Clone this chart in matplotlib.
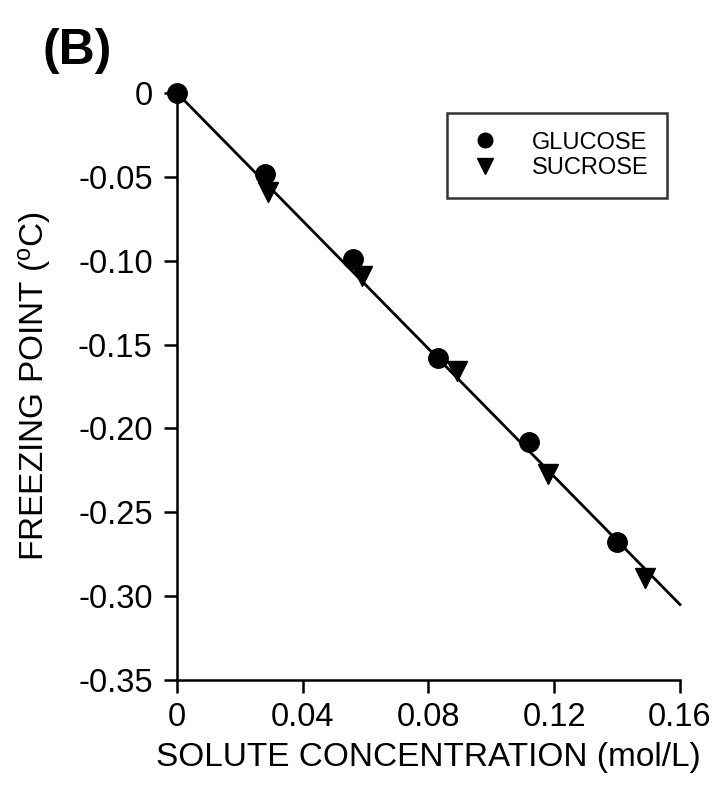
import matplotlib
matplotlib.use("Agg")
import matplotlib.pyplot as plt

plt.rcParams['font.family'] = ['Liberation Sans', 'DejaVu Sans']
plt.rcParams['mathtext.fontset'] = 'custom'
plt.rcParams['mathtext.rm'] = 'Liberation Sans'

# freezing point vs concentration
glucose_x = [0.0, 0.028, 0.056, 0.083, 0.112, 0.140]
glucose_y = [0.0, -0.048, -0.099, -0.158, -0.208, -0.268]
sucrose_x = [0.029, 0.059, 0.089, 0.118, 0.149]
sucrose_y = [-0.059, -0.109, -0.166, -0.227, -0.289]

# fitted line endpoints
fit_x = [0.0, 0.16]
fit_y = [0.0, -0.305]

xticks = [0, 0.04, 0.08, 0.12, 0.16]
xtick_labels = ['0', '0.04', '0.08', '0.12', '0.16']
yticks = [0, -0.05, -0.10, -0.15, -0.20, -0.25, -0.30, -0.35]
ytick_labels = ['0', '-0.05', '-0.10', '-0.15', '-0.20', '-0.25', '-0.30', '-0.35']

fig = plt.figure(figsize=(7.16, 8.0), dpi=100)
ax = fig.add_axes([0.2472, 0.15, 0.7025, 0.73375])

ax.plot(fit_x, fit_y, color='black', lw=2.0, zorder=2, clip_on=False)
ax.plot(glucose_x, glucose_y, 'o', color='black', ms=14, ls='none',
        label='GLUCOSE', zorder=3, clip_on=False)
ax.plot(sucrose_x, sucrose_y, 'v', color='black', ms=15, ls='none',
        label='SUCROSE', zorder=3, clip_on=False)

ax.set_xlim(0, 0.16)
ax.set_ylim(-0.35, 0)
ax.set_xticks(xticks)
ax.set_xticklabels(xtick_labels)
ax.set_yticks(yticks)
ax.set_yticklabels(ytick_labels)

for side in ['top', 'right']:
    ax.spines[side].set_visible(False)
for side in ['left', 'bottom']:
    ax.spines[side].set_linewidth(1.8)

ax.tick_params(direction='out', length=9.5, width=1.8, labelsize=23.5)
ax.tick_params(axis='x', pad=6)
ax.tick_params(axis='y', pad=8)

ax.set_xlabel('SOLUTE CONCENTRATION (mol/L)', fontsize=24, labelpad=7)
ax.set_ylabel(r'FREEZING POINT ($\mathregular{^{o}}$C)', fontsize=24, labelpad=18)

leg = ax.legend(loc='upper left', bbox_to_anchor=(0.624, 0.859),
                bbox_transform=fig.transFigure, borderaxespad=0,
                frameon=True, fancybox=False, edgecolor='black',
                fontsize=17, markerscale=0.75, borderpad=0.8,
                handlelength=1.6, handletextpad=1.2, labelspacing=0.15)
leg.get_frame().set_linewidth(1.8)

fig.text(0.06, 0.965, '(B)', fontsize=36, fontweight='bold', va='top', ha='left')

fig.savefig('out.png', dpi=100, facecolor='white')
